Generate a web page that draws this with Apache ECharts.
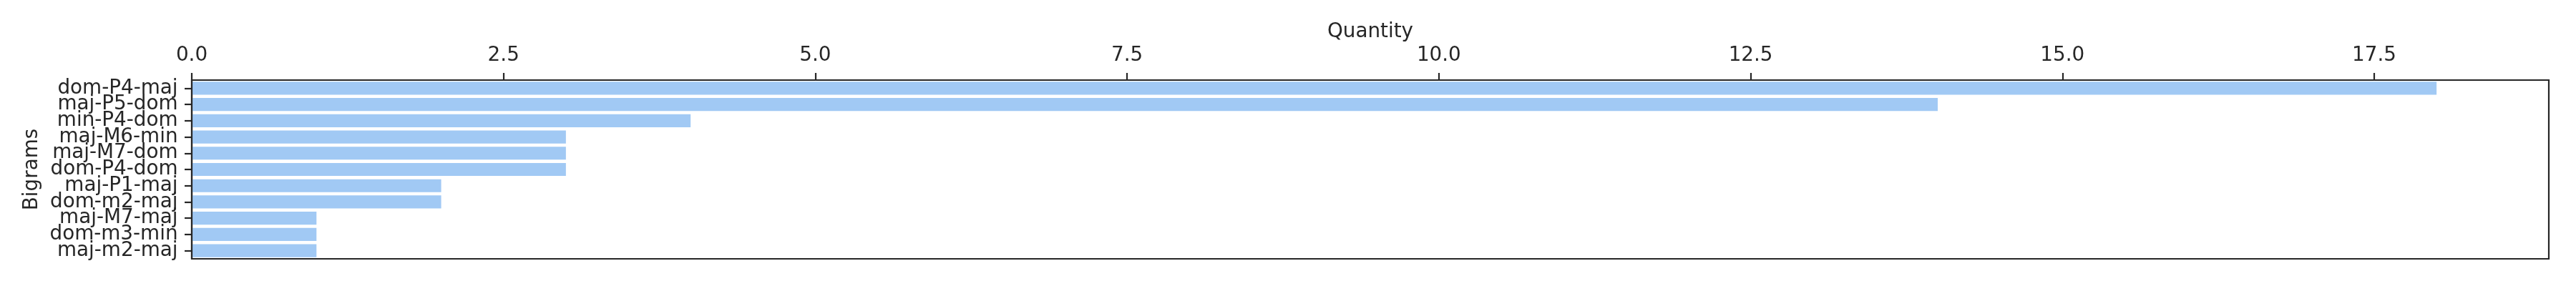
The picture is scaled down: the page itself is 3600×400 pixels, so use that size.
<!DOCTYPE html>
<html>
<head>
<meta charset="utf-8">
<script src="https://cdn.jsdelivr.net/npm/echarts@6/dist/echarts.min.js"></script>
<style>
html,body{margin:0;padding:0;background:#fff;}
#chart{width:3600px;height:400px;}
</style>
</head>
<body>
<div id="chart"></div>
<script>
const categories = ['dom-P4-maj','maj-P5-dom','min-P4-dom','maj-M6-min','maj-M7-dom','dom-P4-dom','maj-P1-maj','dom-m2-maj','maj-M7-maj','dom-m3-min','maj-m2-maj'];
const quantities = [18, 14, 4, 3, 3, 3, 2, 2, 1, 1, 1];
const xTicks = [0, 2.5, 5, 7.5, 10, 12.5, 15, 17.5];
const xMax = 18.9;

const FONT = 'DejaVu Sans';
const FS = 27.8;
const INK = '#262626';

const chart = echarts.init(document.getElementById('chart'), null, {renderer: 'canvas'});
chart.setOption({
  animation: false,
  backgroundColor: '#ffffff',
  grid: {
    left: 268, right: 38, top: 112, bottom: 38,
    show: true, borderColor: INK, borderWidth: 2.2, backgroundColor: 'transparent'
  },
  xAxis: {
    type: 'value',
    position: 'top',
    min: 0, max: xMax,
    name: 'Quantity',
    nameLocation: 'middle',
    nameGap: 52,
    nameTextStyle: {fontFamily: FONT, fontSize: FS, color: INK},
    axisLine: {show: true, lineStyle: {color: INK, width: 2.2}},
    axisTick: {show: true, length: 10, lineStyle: {color: INK, width: 2.2}, customValues: xTicks},
    axisLabel: {show: true, margin: 20, fontFamily: FONT, fontSize: FS, color: INK,
      customValues: xTicks, formatter: v => Number(v).toFixed(1)},
    splitLine: {show: false},
    z: 5
  },
  yAxis: {
    type: 'category',
    data: categories,
    inverse: true,
    name: 'Bigrams',
    nameLocation: 'middle',
    nameRotate: 90,
    nameGap: 207,
    nameTextStyle: {fontFamily: FONT, fontSize: FS, color: INK},
    axisLine: {show: true, lineStyle: {color: INK, width: 2.2}},
    axisTick: {show: true, alignWithLabel: true, length: 10, lineStyle: {color: INK, width: 2.2}},
    axisLabel: {show: true, margin: 19.5, fontFamily: FONT, fontSize: FS, color: INK, interval: 0},
    splitLine: {show: false},
    z: 5
  },
  series: [{
    type: 'bar',
    data: quantities,
    barWidth: '80%',
    itemStyle: {color: '#a1c9f4'},
    z: 2
  }]
});
</script>
</body>
</html>
